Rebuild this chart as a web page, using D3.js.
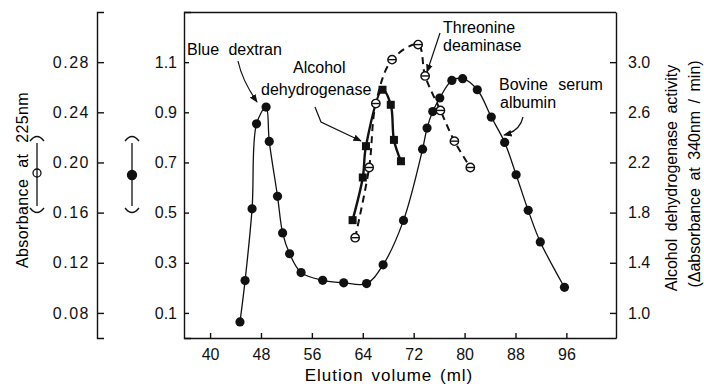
<!DOCTYPE html>
<html>
<head>
<meta charset="utf-8">
<script src="https://cdn.jsdelivr.net/npm/d3@7"></script>
<style>
  body { margin: 0; background: #fff; }
  svg { font-family: "Liberation Sans", Arial, sans-serif; }
  .axis text { font-size: 16px; fill: #111; font-family: "Liberation Sans", Arial, sans-serif; }
  .axis path, .axis line { stroke: #111; stroke-width: 1.4; }
</style>
</head>
<body>
<div id="chart"></div>
<script>
// blue dots: absorbance (inner left axis)
const blueVol = [44.7, 45.5, 46.6, 47.3, 48.8, 49.3, 50.6, 51.4, 52.5, 54.3, 57.7, 61.0, 64.6, 67.2,
                 70.4, 73.4, 74.1, 75.0, 76.1, 78.0, 79.7, 82.0, 84.2, 86.3, 88.1, 90.0, 91.9, 95.7];
const blueAbs = [0.064, 0.229, 0.515, 0.854, 0.921, 0.784, 0.565, 0.419, 0.336, 0.261, 0.23, 0.22, 0.217, 0.292,
                 0.469, 0.753, 0.837, 0.903, 0.957, 1.027, 1.034, 0.99, 0.881, 0.78, 0.651, 0.509, 0.383, 0.202];

// alcohol dehydrogenase activity (right axis)
const adhVol = [62.4, 64.0, 64.5, 67.1, 68.4, 68.9, 70.0];
const adhAct = [1.74, 2.08, 2.33, 2.78, 2.66, 2.38, 2.21];

// threonine deaminase, absorbance at 225nm (outer left axis)
const thrVol = [62.8, 65.0, 66.05, 68.6, 72.7, 73.8, 76.2, 78.4, 80.9];
const thrAbs = [0.140, 0.196, 0.247, 0.282, 0.294, 0.269, 0.2415, 0.217, 0.196];

const xTicks = [40, 48, 56, 64, 72, 80, 88, 96];
const innerTicks = [0.1, 0.3, 0.5, 0.7, 0.9, 1.1];
const outerTicks = [0.08, 0.12, 0.16, 0.20, 0.24, 0.28];
const rightTicks = [1.0, 1.4, 1.8, 2.2, 2.6, 3.0];

const width = 704, height = 384;
const plotL = 184, plotR = 616, plotT = 12, plotB = 338, outerX = 97;

const svg = d3.select("#chart").append("svg")
    .attr("width", width)
    .attr("height", height);

const x = d3.scaleLinear().domain([35.9, 103.8]).range([plotL, plotR]);
const yBlue = d3.scaleLinear().domain([0, 1.3]).range([plotB, plotT]);
const yThr = d3.scaleLinear().domain([0.06, 0.32]).range([plotB, plotT]);
const yAdh = d3.scaleLinear().domain([0.8, 3.4]).range([plotB, plotT]);

// axes
svg.append("g").attr("class", "axis")
    .attr("transform", `translate(0,${plotB})`)
    .call(d3.axisBottom(x).tickValues(xTicks).tickSize(-5).tickSizeOuter(0).tickPadding(11));

svg.append("g").attr("class", "axis")
    .attr("transform", `translate(${plotL},0)`)
    .call(d3.axisLeft(yBlue).tickValues(innerTicks).tickFormat(d3.format(".1f"))
      .tickSize(-5).tickSizeOuter(-7).tickPadding(7));

svg.append("g").attr("class", "axis outer")
    .attr("transform", `translate(${outerX},0)`)
    .call(d3.axisLeft(yThr).tickValues(outerTicks).tickFormat(d3.format(".2f"))
      .tickSize(-7).tickSizeOuter(-7).tickPadding(7))
    .selectAll("text").style("letter-spacing", "1.5px");

svg.append("g").attr("class", "axis")
    .attr("transform", `translate(${plotR},0)`)
    .call(d3.axisRight(yAdh).tickValues(rightTicks).tickFormat(d3.format(".1f"))
      .tickSize(-6).tickSizeOuter(0).tickPadding(12));

svg.append("line")
    .attr("x1", plotL).attr("x2", plotR)
    .attr("y1", plotT + 0.5).attr("y2", plotT + 0.5)
    .attr("stroke", "#111").attr("stroke-width", 1.4);

// axis titles
svg.append("text")
    .attr("transform", "translate(28,180) rotate(-90)")
    .attr("text-anchor", "middle")
    .style("font-size", "16px").style("word-spacing", "6px").style("letter-spacing", "0.4px")
    .text("Absorbance at 225nm");

svg.append("text")
    .attr("x", 389).attr("y", 381)
    .attr("text-anchor", "middle")
    .style("font-size", "17px").style("letter-spacing", "1px").style("word-spacing", "2px")
    .text("Elution volume (ml)");

svg.append("text")
    .attr("transform", "translate(677,178) rotate(-90)")
    .attr("text-anchor", "middle")
    .style("font-size", "16px").style("word-spacing", "3px")
    .text("Alcohol dehydrogenase activity");

svg.append("text")
    .attr("transform", "translate(700,174) rotate(-90)")
    .attr("text-anchor", "middle")
    .style("font-size", "16px").style("word-spacing", "3px")
    .text("(\u0394absorbance at 340nm / min)");

// legend keys beside the left axes
function key(cx, filled) {
  const g = svg.append("g").attr("fill", "none").attr("stroke", "#111").attr("stroke-width", 1.3);
  g.append("path").attr("d", `M${cx - 7},${141} Q${cx},${132} ${cx + 7},${141}`);
  g.append("path").attr("d", `M${cx - 7},${208} Q${cx},${217} ${cx + 7},${208}`);
  g.append("line").attr("x1", cx).attr("x2", cx).attr("y1", 143).attr("y2", 206);
  if (filled) {
    g.append("circle").attr("cx", cx).attr("cy", 175).attr("r", 4.5).attr("fill", "#111");
  } else {
    g.append("circle").attr("cx", cx).attr("cy", 173).attr("r", 4).attr("fill", "#fff");
    g.append("line").attr("x1", cx).attr("x2", cx).attr("y1", 169).attr("y2", 177);
  }
}
key(37, false);
key(132, true);

// data lines
const bluePts = blueVol.map((v, i) => [v, blueAbs[i]]);
const adhPts = adhVol.map((v, i) => [v, adhAct[i]]);
const thrPts = thrVol.map((v, i) => [v, thrAbs[i]]);

svg.append("path")
    .datum(bluePts)
    .attr("fill", "none").attr("stroke", "#111").attr("stroke-width", 1.3)
    .attr("d", d3.line().x(d => x(d[0])).y(d => yBlue(d[1])).curve(d3.curveCatmullRom.alpha(0.5)));

svg.append("path")
    .datum(thrPts)
    .attr("fill", "none").attr("stroke", "#111").attr("stroke-width", 2)
    .attr("stroke-dasharray", "7,5")
    .attr("d", d3.line().x(d => x(d[0])).y(d => yThr(d[1])).curve(d3.curveCatmullRom.alpha(0.5)));

svg.append("path")
    .datum(adhPts)
    .attr("fill", "none").attr("stroke", "#111").attr("stroke-width", 2.4)
    .attr("d", d3.line().x(d => x(d[0])).y(d => yAdh(d[1])).curve(d3.curveCatmullRom.alpha(0.5)));

// markers
svg.append("g").selectAll("circle")
    .data(bluePts)
    .join("circle")
    .attr("cx", d => x(d[0])).attr("cy", d => yBlue(d[1]))
    .attr("r", 4.6).attr("fill", "#111");

svg.append("g").selectAll("rect")
    .data(adhPts)
    .join("rect")
    .attr("x", d => x(d[0]) - 4).attr("y", d => yAdh(d[1]) - 4)
    .attr("width", 8).attr("height", 8).attr("fill", "#111");

const thrG = svg.append("g").selectAll("g")
    .data(thrPts)
    .join("g")
    .attr("transform", d => `translate(${x(d[0])},${yThr(d[1])})`);
thrG.append("circle").attr("r", 4.2).attr("fill", "#fff").attr("stroke", "#111").attr("stroke-width", 1.4);
thrG.append("line").attr("x1", -4).attr("x2", 4).attr("stroke", "#111").attr("stroke-width", 1.4);

// annotations
svg.append("defs").append("marker")
    .attr("id", "arrow")
    .attr("viewBox", "0 0 10 10")
    .attr("refX", 9).attr("refY", 5)
    .attr("markerWidth", 7).attr("markerHeight", 7)
    .attr("orient", "auto")
  .append("path")
    .attr("d", "M0,1 L10,5 L0,9 Z")
    .attr("fill", "#111");

const notes = [
  {text: "Blue dextran", x: 187, y: 55, ws: 5},
  {text: "Alcohol", x: 293, y: 73, ws: 0},
  {text: "dehydrogenase", x: 261, y: 95, ws: 0},
  {text: "Threonine", x: 443, y: 33, ws: 0},
  {text: "deaminase", x: 443, y: 51, ws: 0},
  {text: "Bovine serum", x: 499, y: 90, ws: 6},
  {text: "albumin", x: 500, y: 108, ws: 0}
];
notes.forEach(n => {
  svg.append("text")
      .attr("x", n.x).attr("y", n.y)
      .style("font-size", "16px").style("word-spacing", n.ws + "px")
      .text(n.text);
});

const pointers = [
  "M238,61 Q242,80 257,102",
  "M315,107 L321,122 L361,141",
  "M440,33 L427,72",
  "M523,117 Q520,131 504,135"
];
pointers.forEach(p => {
  svg.append("path")
      .attr("d", p)
      .attr("fill", "none").attr("stroke", "#111").attr("stroke-width", 1.2)
      .attr("marker-end", "url(#arrow)");
});
</script>
</body>
</html>
